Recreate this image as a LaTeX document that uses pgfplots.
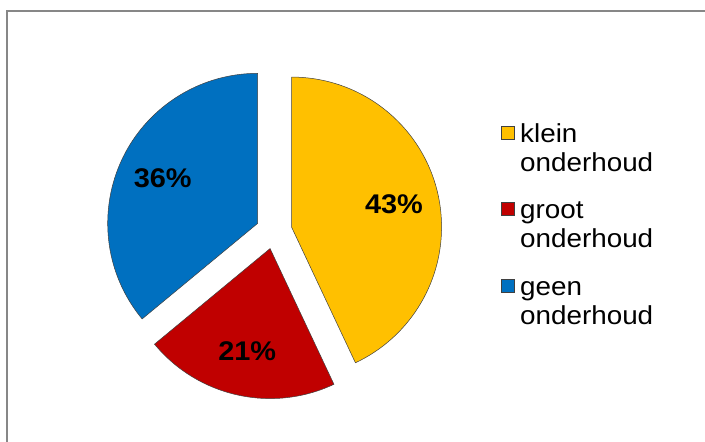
\documentclass[border=0pt]{standalone}
\usepackage{fontspec}
\setmainfont{Liberation Sans}
\newfontfamily\legfont[FakeStretch=1.07]{Liberation Sans}
\usepackage{pgfplots}
\usepackage{pgfplotstable}
\pgfplotsset{compat=1.18}

\definecolor{geel}{HTML}{FFC000}
\definecolor{rood}{HTML}{C00000}
\definecolor{blauw}{HTML}{0070C0}

% onderhoud aandelen (procent)
\pgfplotstableread{
label value color
klein 43 geel
groot 21 rood
geen 36 blauw
}\piedata

% hoeken, middens en labelposities per sector
\def\cum{0}
\pgfplotsforeachungrouped \i in {0,1,2}{%
  \pgfplotstablegetelem{\i}{value}\of\piedata
  \expandafter\xdef\csname v\i\endcsname{\pgfplotsretval}%
  \pgfmathsetmacro\va{\pgfplotsretval}%
  \pgfmathsetmacro\sa{90-3.6*\cum}%
  \pgfmathsetmacro\ea{90-3.6*(\cum+\va)}%
  \pgfmathsetmacro\ma{(\sa+\ea)/2}%
  \pgfmathsetmacro\cx{274+18*cos(\ma)}%
  \pgfmathsetmacro\cy{211+18*sin(\ma)}%
  \pgfmathsetmacro\lx{\cx+105*cos(\ma)}%
  \pgfmathsetmacro\ly{\cy+105*sin(\ma)}%
  \pgfmathsetmacro\ty{299.5-76.5*\i}%
  \expandafter\xdef\csname sa\i\endcsname{\sa}%
  \expandafter\xdef\csname ea\i\endcsname{\ea}%
  \expandafter\xdef\csname cx\i\endcsname{\cx}%
  \expandafter\xdef\csname cy\i\endcsname{\cy}%
  \expandafter\xdef\csname lx\i\endcsname{\lx}%
  \expandafter\xdef\csname ly\i\endcsname{\ly}%
  \expandafter\xdef\csname ty\i\endcsname{\ty}%
  \pgfplotstablegetelem{\i}{label}\of\piedata
  \expandafter\xdef\csname lab\i\endcsname{\pgfplotsretval}%
  \pgfplotstablegetelem{\i}{color}\of\piedata
  \colorlet{pie\i}{\pgfplotsretval}%
  \pgfmathsetmacro\cum{\cum+\va}%
}

\begin{document}
\begin{tikzpicture}
\begin{axis}[
  scale only axis,
  width=705pt, height=442pt,
  xmin=0, xmax=705, ymin=0, ymax=442,
  axis lines=none,
  clip=true,
]
  % kader van de grafiek
  \draw[color=black!47, line width=2pt] (axis cs:7,-5) -- (axis cs:7,431) -- (axis cs:710,431);

  \pgfplotsinvokeforeach{0,1,2}{
    \filldraw[fill=pie#1, draw=black!75, line width=0.5pt]
      (axis cs:\csname cx#1\endcsname,\csname cy#1\endcsname)
      -- ++(\csname sa#1\endcsname:150pt)
      arc[start angle=\csname sa#1\endcsname, end angle=\csname ea#1\endcsname, radius=150pt]
      -- cycle;
    \node[font=\legfont\fontsize{27}{30}\selectfont\bfseries]
      at (axis cs:\csname lx#1\endcsname,\csname ly#1\endcsname) {\csname v#1\endcsname\%};
    % legenda
    \filldraw[fill=pie#1, draw=black!75, line width=0.8pt]
      (axis cs:501,\csname ty#1\endcsname+3.5) rectangle (axis cs:514,\csname ty#1\endcsname+16.5);
    \node[anchor=base west, inner sep=0pt, font=\legfont\fontsize{26}{30}\selectfont]
      at (axis cs:520,\csname ty#1\endcsname) {\csname lab#1\endcsname};
    \node[anchor=base west, inner sep=0pt, font=\legfont\fontsize{26}{30}\selectfont]
      at (axis cs:520,\csname ty#1\endcsname-29) {onderhoud};
  }
\end{axis}
\pgfresetboundingbox
\useasboundingbox (0,0) rectangle (705pt,442pt);
\end{tikzpicture}
\end{document}
